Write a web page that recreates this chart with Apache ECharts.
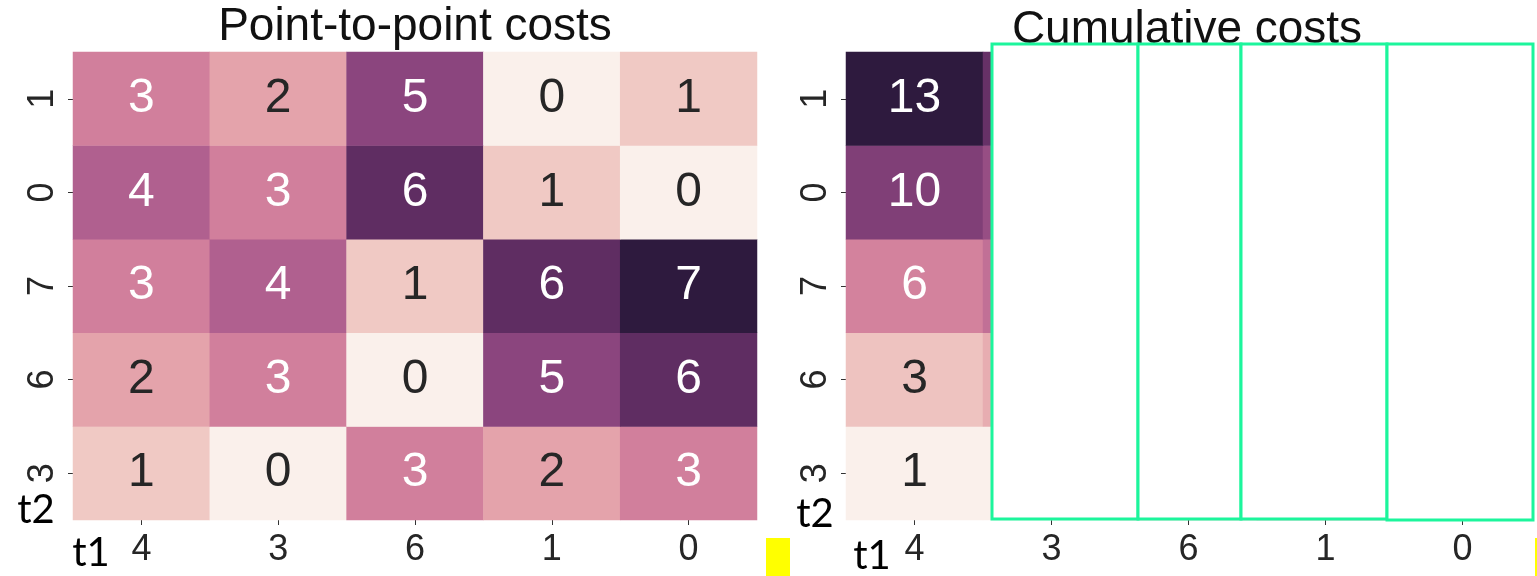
<!DOCTYPE html>
<html>
<head>
<meta charset="utf-8">
<script src="https://cdn.jsdelivr.net/npm/echarts@6/dist/echarts.min.js"></script>
<style>
html,body{margin:0;padding:0;background:#fff;}
#chart{width:1537px;height:576px;}
</style>
</head>
<body>
<div id="chart"></div>
<script>
// ---- data ----
const t1Labels = ['4', '3', '6', '1', '0'];          // x axis (left to right)
const t2Labels = ['3', '6', '7', '0', '1'];          // y axis (bottom to top)
// point-to-point costs, rows bottom->top (t2 = 3, 6, 7, 0, 1)
const pointCostRow3 = [1, 0, 3, 2, 3];
const pointCostRow6 = [2, 3, 0, 5, 6];
const pointCostRow7 = [3, 4, 1, 6, 7];
const pointCostRow0 = [4, 3, 6, 1, 0];
const pointCostRow1 = [3, 2, 5, 0, 1];
// cumulative costs, rows bottom->top
const cumCostRow3 = [1, 1, 4, 6, 9];
const cumCostRow6 = [3, 4, 1, 6, 12];
const cumCostRow7 = [6, 7, 2, 7, 13];
const cumCostRow0 = [10, 9, 8, 3, 3];
const cumCostRow1 = [13, 11, 13, 3, 4];
const titles = ['Point-to-point costs', 'Cumulative costs'];

const palette = ['#faf0eb', '#f0c9c4', '#e4a3ab', '#d17f9c', '#b0608f', '#8b457e', '#5f2d62', '#2e1a3e'];

function build(rows, min, max) {
  const out = [];
  rows.forEach((row, yi) => {
    row.forEach((v, xi) => {
      const t = (v - min) / (max - min);
      out.push({ value: [xi, yi, v], label: { color: t > 0.35 ? '#ffffff' : '#262626' } });
    });
  });
  return out;
}
const pointData = build([pointCostRow3, pointCostRow6, pointCostRow7, pointCostRow0, pointCostRow1], 0, 7);
const cumData = build([cumCostRow3, cumCostRow6, cumCostRow7, cumCostRow0, cumCostRow1], 1, 13);

const tickFont = 'Liberation Sans, DejaVu Sans, sans-serif';
function xAxis(gi) {
  return {
    type: 'category', gridIndex: gi, data: t1Labels,
    axisLine: { show: false },
    axisTick: { show: true, alignWithLabel: true, length: 5, lineStyle: { color: '#333' } },
    axisLabel: { fontSize: 36, color: '#262626', margin: 12, fontFamily: tickFont },
    splitLine: { show: false }
  };
}
function yAxis(gi) {
  return {
    type: 'category', gridIndex: gi, data: t2Labels,
    axisLine: { show: false },
    axisTick: { show: true, alignWithLabel: true, length: 5, lineStyle: { color: '#333' } },
    axisLabel: { fontSize: 36, color: '#262626', margin: 12, rotate: 90, fontFamily: tickFont },
    splitLine: { show: false }
  };
}

const chart = echarts.init(document.getElementById('chart'));
const labelStyle = { show: true, fontSize: 48, fontFamily: tickFont };
const greenBox = { stroke: '#1cf59c', lineWidth: 3, fill: '#ffffff' };

chart.setOption({
  animation: false,
  grid: [
    { left: 73, top: 52, width: 684, height: 468 },
    { left: 846, top: 52, width: 685, height: 468 }
  ],
  xAxis: [xAxis(0), xAxis(1)],
  yAxis: [yAxis(0), yAxis(1)],
  visualMap: [
    { show: false, seriesIndex: 0, min: 0, max: 7, dimension: 2, inRange: { color: palette } },
    { show: false, seriesIndex: 1, min: 1, max: 13, dimension: 2, inRange: { color: palette } }
  ],
  series: [
    { type: 'heatmap', xAxisIndex: 0, yAxisIndex: 0, data: pointData, label: labelStyle, itemStyle: { borderWidth: 0 } },
    { type: 'heatmap', xAxisIndex: 1, yAxisIndex: 1, data: cumData, label: labelStyle, itemStyle: { borderWidth: 0 } }
  ],
  graphic: [
    { type: 'text', x: 415, y: 27, z: 1, style: { text: titles[0], font: '46px "Liberation Sans", sans-serif', fill: '#111', textAlign: 'center', textVerticalAlign: 'middle' } },
    { type: 'text', x: 1187, y: 30, z: 1, style: { text: titles[1], font: '46px "Liberation Sans", sans-serif', fill: '#111', textAlign: 'center', textVerticalAlign: 'middle' } },
    { type: 'rect', z: 100, shape: { x: 992, y: 44, width: 146, height: 475 }, style: greenBox },
    { type: 'rect', z: 100, shape: { x: 1138, y: 44, width: 103, height: 475 }, style: greenBox },
    { type: 'rect', z: 100, shape: { x: 1241, y: 44, width: 146, height: 475 }, style: greenBox },
    { type: 'rect', z: 100, shape: { x: 1387, y: 44, width: 146, height: 476 }, style: greenBox },
    { type: 'rect', z: 100, shape: { x: 766, y: 538, width: 24, height: 38 }, style: { fill: '#ffff00' } },
    { type: 'rect', z: 100, shape: { x: 1535, y: 538, width: 3, height: 38 }, style: { fill: '#ffff00' } },
    { type: 'text', x: 36, y: 510, z: 100, style: { text: 't2', font: '40px Lato, sans-serif', fill: '#000', textAlign: 'center', textVerticalAlign: 'middle' } },
    { type: 'text', x: 91, y: 553, z: 100, style: { text: 't1', font: '40px Lato, sans-serif', fill: '#000', textAlign: 'center', textVerticalAlign: 'middle' } },
    { type: 'text', x: 815, y: 514, z: 100, style: { text: 't2', font: '40px Lato, sans-serif', fill: '#000', textAlign: 'center', textVerticalAlign: 'middle' } },
    { type: 'text', x: 872, y: 556, z: 100, style: { text: 't1', font: '40px Lato, sans-serif', fill: '#000', textAlign: 'center', textVerticalAlign: 'middle' } }
  ]
});
</script>
</body>
</html>
